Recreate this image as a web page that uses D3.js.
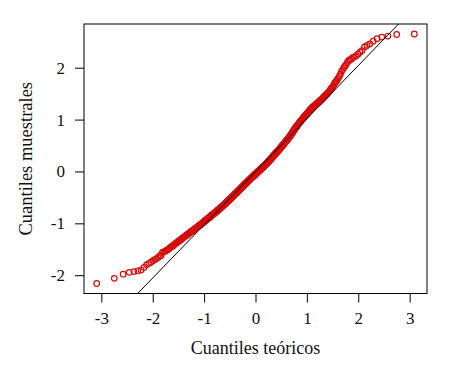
<!DOCTYPE html>
<html>
<head>
<meta charset="utf-8">
<script src="https://cdn.jsdelivr.net/npm/d3@7"></script>
<style>
  html, body { margin: 0; padding: 0; background: #fff; }
  svg text { font-family: "Liberation Serif", "DejaVu Serif", serif; fill: #111; }
</style>
</head>
<body>
<svg id="chart" width="449" height="381"></svg>
<script>
// Sorted sample values, n = 500
const sampleQuantiles = [
 -2.16,-2.06,-1.98,-1.945,-1.93,-1.915,-1.90,-1.85,-1.80,-1.77,
 -1.75,-1.72,-1.70,-1.68,-1.66,-1.63,-1.62,-1.56,-1.55,-1.54,
 -1.527,-1.51,-1.50,-1.48,-1.464,-1.45,-1.44,-1.43,-1.41,-1.395,
 -1.38,-1.37,-1.36,-1.35,-1.335,-1.325,-1.315,-1.30,-1.29,-1.282,
 -1.27,-1.26,-1.25,-1.24,-1.233,-1.225,-1.215,-1.205,-1.195,-1.188,
 -1.18,-1.172,-1.164,-1.156,-1.148,-1.14,-1.132,-1.124,-1.116,-1.108,
 -1.10,-1.093,-1.086,-1.079,-1.072,-1.065,-1.058,-1.051,-1.044,-1.037,
 -1.03,-1.023,-1.016,-1.009,-1.002,-0.995,-0.988,-0.981,-0.974,-0.967,
 -0.96,-0.954,-0.947,-0.941,-0.934,-0.928,-0.921,-0.915,-0.908,-0.902,
 -0.896,-0.89,-0.884,-0.878,-0.871,-0.865,-0.859,-0.853,-0.847,-0.841,
 -0.835,-0.83,-0.824,-0.818,-0.812,-0.807,-0.801,-0.795,-0.79,-0.784,
 -0.778,-0.773,-0.767,-0.762,-0.756,-0.751,-0.745,-0.74,-0.734,-0.729,
 -0.723,-0.718,-0.712,-0.706,-0.701,-0.695,-0.69,-0.684,-0.678,-0.673,
 -0.667,-0.662,-0.656,-0.65,-0.645,-0.639,-0.634,-0.628,-0.622,-0.617,
 -0.611,-0.606,-0.60,-0.594,-0.589,-0.583,-0.578,-0.572,-0.566,-0.561,
 -0.556,-0.55,-0.545,-0.54,-0.534,-0.529,-0.524,-0.518,-0.513,-0.508,
 -0.503,-0.497,-0.492,-0.487,-0.481,-0.476,-0.471,-0.466,-0.46,-0.455,
 -0.45,-0.444,-0.439,-0.434,-0.428,-0.423,-0.418,-0.413,-0.407,-0.402,
 -0.397,-0.391,-0.386,-0.381,-0.375,-0.37,-0.365,-0.36,-0.354,-0.349,
 -0.344,-0.339,-0.334,-0.329,-0.323,-0.318,-0.313,-0.308,-0.303,-0.298,
 -0.293,-0.288,-0.282,-0.277,-0.272,-0.267,-0.262,-0.256,-0.251,-0.246,
 -0.241,-0.236,-0.231,-0.226,-0.221,-0.215,-0.21,-0.205,-0.20,-0.195,
 -0.19,-0.185,-0.18,-0.175,-0.17,-0.166,-0.161,-0.156,-0.151,-0.146,
 -0.141,-0.137,-0.132,-0.128,-0.123,-0.118,-0.114,-0.109,-0.105,-0.10,
 -0.095,-0.091,-0.086,-0.082,-0.077,-0.072,-0.068,-0.063,-0.059,-0.054,
 -0.049,-0.044,-0.04,-0.035,-0.03,-0.025,-0.02,-0.016,-0.011,-0.006,
 -0.001,0.003,0.008,0.012,0.017,0.022,0.026,0.031,0.035,0.04,
 0.045,0.049,0.054,0.058,0.063,0.068,0.072,0.077,0.081,0.086,
 0.091,0.095,0.10,0.105,0.109,0.114,0.119,0.123,0.128,0.133,
 0.138,0.144,0.149,0.155,0.16,0.166,0.171,0.177,0.182,0.188,
 0.194,0.20,0.206,0.212,0.218,0.223,0.229,0.235,0.241,0.247,
 0.253,0.259,0.264,0.27,0.276,0.282,0.288,0.293,0.299,0.305,
 0.311,0.317,0.323,0.329,0.336,0.342,0.348,0.354,0.36,0.366,
 0.372,0.378,0.384,0.39,0.397,0.403,0.409,0.415,0.421,0.427,
 0.434,0.441,0.447,0.454,0.461,0.468,0.475,0.481,0.488,0.495,
 0.502,0.509,0.516,0.523,0.531,0.538,0.545,0.552,0.559,0.566,
 0.573,0.58,0.588,0.595,0.602,0.609,0.616,0.624,0.631,0.638,
 0.647,0.655,0.664,0.673,0.682,0.69,0.699,0.708,0.716,0.725,
 0.735,0.745,0.755,0.765,0.775,0.785,0.795,0.805,0.815,0.825,
 0.834,0.844,0.853,0.862,0.871,0.881,0.89,0.899,0.909,0.918,
 0.927,0.936,0.945,0.954,0.963,0.973,0.982,0.991,1.00,1.009,
 1.018,1.027,1.036,1.045,1.055,1.064,1.073,1.082,1.091,1.10,
 1.11,1.12,1.13,1.14,1.15,1.16,1.17,1.18,1.19,1.20,
 1.21,1.22,1.23,1.24,1.25,1.25,1.26,1.27,1.28,1.29,
 1.30,1.30,1.31,1.32,1.33,1.34,1.35,1.36,1.37,1.38,
 1.39,1.40,1.41,1.43,1.44,1.45,1.46,1.48,1.49,1.50,
 1.52,1.53,1.55,1.57,1.59,1.61,1.63,1.65,1.68,1.71,
 1.73,1.75,1.78,1.81,1.84,1.88,1.93,1.96,2.00,2.03,
 2.06,2.10,2.14,2.15,2.17,2.20,2.21,2.23,2.26,2.30,
 2.33,2.40,2.43,2.46,2.51,2.56,2.59,2.61,2.64,2.65
];
const xTicks = [-3, -2, -1, 0, 1, 2, 3];
const yTicks = [-2, -1, 0, 1, 2];
const xTitle = "Cuantiles teóricos";
const yTitle = "Cuantiles muestrales";

// Inverse standard normal CDF (Acklam)
function qnorm(p) {
  const a = [-3.969683028665376e+01, 2.209460984245205e+02, -2.759285104469687e+02, 1.383577518672690e+02, -3.066479806614716e+01, 2.506628277459239e+00];
  const b = [-5.447609879822406e+01, 1.615858368580409e+02, -1.556989798598866e+02, 6.680131188771972e+01, -1.328068155288572e+01];
  const c = [-7.784894002430293e-03, -3.223964580411365e-01, -2.400758277161838e+00, -2.549732539343734e+00, 4.374664141464968e+00, 2.938163982698783e+00];
  const d = [7.784695709041462e-03, 3.224671290700398e-01, 2.445134137142996e+00, 3.754408661907416e+00];
  const pl = 0.02425, ph = 1 - pl;
  let q, r;
  if (p < pl) {
    q = Math.sqrt(-2 * Math.log(p));
    return (((((c[0]*q+c[1])*q+c[2])*q+c[3])*q+c[4])*q+c[5]) / ((((d[0]*q+d[1])*q+d[2])*q+d[3])*q+1);
  } else if (p <= ph) {
    q = p - 0.5; r = q * q;
    return (((((a[0]*r+a[1])*r+a[2])*r+a[3])*r+a[4])*r+a[5])*q / (((((b[0]*r+b[1])*r+b[2])*r+b[3])*r+b[4])*r+1);
  } else {
    q = Math.sqrt(-2 * Math.log(1 - p));
    return -(((((c[0]*q+c[1])*q+c[2])*q+c[3])*q+c[4])*q+c[5]) / ((((d[0]*q+d[1])*q+d[2])*q+d[3])*q+1);
  }
}

const n = sampleQuantiles.length;
const aa = n <= 10 ? 3 / 8 : 0.5;
const points = sampleQuantiles.map((v, i) => ({
  x: qnorm((i + 1 - aa) / (n + 1 - 2 * aa)),
  y: v
}));

// qqline through quartiles
const q1 = d3.quantile(sampleQuantiles, 0.25), q3 = d3.quantile(sampleQuantiles, 0.75);
const slope = (q3 - q1) / (qnorm(0.75) - qnorm(0.25));
const intercept = q1 - slope * qnorm(0.25);

function padded(ext) {
  const r = ext[1] - ext[0];
  return [ext[0] - 0.04 * r, ext[1] + 0.04 * r];
}

const L = 84, R = 427, T = 24, B = 293.5;
const x = d3.scaleLinear().domain(padded(d3.extent(points, d => d.x))).range([L, R]);
const y = d3.scaleLinear().domain(padded(d3.extent(points, d => d.y))).range([B, T]);

const svg = d3.select("#chart");

svg.append("clipPath").attr("id", "clip")
  .append("rect").attr("x", L).attr("y", T).attr("width", R - L).attr("height", B - T);

// points
svg.append("g").selectAll("circle").data(points).join("circle")
  .attr("cx", d => x(d.x)).attr("cy", d => y(d.y)).attr("r", 2.8)
  .attr("fill", "none").attr("stroke", "#d80c0c").attr("stroke-width", 1.2);

// reference line
const xd = x.domain();
svg.append("line").attr("clip-path", "url(#clip)")
  .attr("x1", x(xd[0])).attr("y1", y(intercept + slope * xd[0]))
  .attr("x2", x(xd[1])).attr("y2", y(intercept + slope * xd[1]))
  .attr("stroke", "#000").attr("stroke-width", 1);

// box
svg.append("rect").attr("x", L).attr("y", T).attr("width", R - L).attr("height", B - T)
  .attr("fill", "none").attr("stroke", "#000").attr("stroke-width", 1);

// axes
const fmt = d => String(d);
const xAxis = d3.axisBottom(x).tickValues(xTicks).tickSize(9).tickPadding(9).tickFormat(fmt);
const gx = svg.append("g").attr("transform", `translate(0,${B})`).call(xAxis);
gx.select(".domain").remove();
gx.selectAll("text").attr("font-size", 17).attr("font-family", "Liberation Serif").attr("fill", "#111");
gx.selectAll("line").attr("stroke", "#000");

const yAxis = d3.axisLeft(y).tickValues(yTicks).tickSize(9).tickPadding(10).tickFormat(fmt);
const gy = svg.append("g").attr("transform", `translate(${L},0)`).call(yAxis);
gy.select(".domain").remove();
gy.selectAll("text").attr("font-size", 17).attr("font-family", "Liberation Serif").attr("fill", "#111");
gy.selectAll("line").attr("stroke", "#000");

// titles
svg.append("text").attr("x", (L + R) / 2).attr("y", 354).attr("text-anchor", "middle")
  .attr("font-size", 18).text(xTitle);
svg.append("text").attr("transform", `translate(32,${(T + B) / 2}) rotate(-90)`)
  .attr("text-anchor", "middle").attr("font-size", 18.5).text(yTitle);
</script>
</body>
</html>
